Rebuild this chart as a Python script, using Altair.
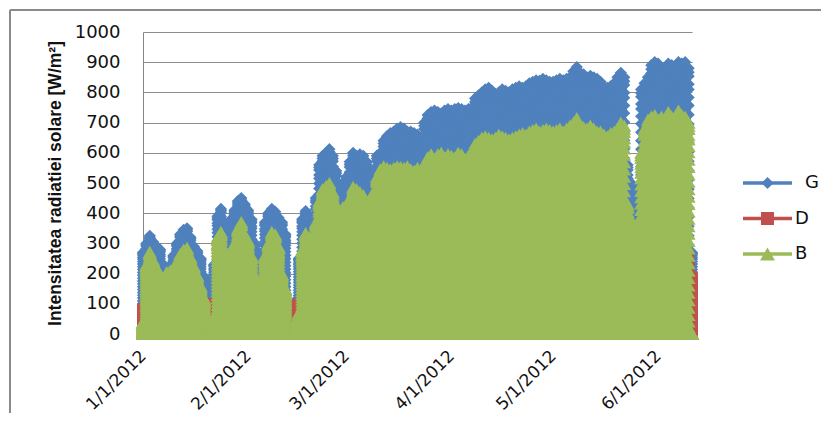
import altair as alt
import pandas as pd

alt.data_transformers.disable_max_rows()

START = "2012-01-01"
SERIES = ["G", "D", "B"]
COLORS = ["#4F81BD", "#C0504D", "#9BBB59"]
SHAPES = ["diamond", "square", "triangle-up"]
SIZES = [150, 121, 196]
LEGEND_SIZES = [150, 169, 225]

# daily peak values (W/m2), one per day from 1/1/2012
G_PEAK = [270, 300, 325, 305, 290, 280, 230, 220, 225, 260, 300, 330, 345, 350, 320, 290, 275, 250, 190, 170,
          150, 230, 390, 414, 370, 340, 380, 410, 440, 450, 430,
          410, 380, 300, 200, 260, 370, 400, 414, 405, 385, 370, 330, 100, 90, 110, 250, 380, 407, 390,
          367, 450, 560, 590, 600, 612, 590, 540, 480, 500,
          520, 570, 600, 590, 595, 590, 570, 540, 533, 590, 600, 640, 655, 665, 670, 680, 685, 680, 670, 670,
          665, 660, 650, 700, 725, 735, 740, 735, 730, 740, 745,
          740, 745, 748, 745, 740, 745, 750, 780, 790, 800, 810, 815, 805, 795, 800, 810, 805, 800, 810, 815,
          820, 815, 820, 830, 835, 840, 838, 845, 840, 835,
          835, 840, 845, 840, 845, 850, 870, 884, 865, 860, 850, 855, 850, 845, 835, 820, 815, 820, 830, 850,
          865, 850, 560, 500, 470, 480, 810, 830, 850, 890, 900,
          895, 880, 860, 895, 890, 870, 900, 895, 900, 880, 270]
D_PEAK = [85, 80, 75, 80, 85, 75, 70, 60, 65, 70, 70, 75, 70, 75, 80, 85, 90, 95, 100, 100,
          100, 100, 95, 90, 95, 100, 100, 95, 95, 100, 100,
          100, 100, 100, 100, 100, 100, 95, 95, 100, 100, 100, 100, 95, 90, 95, 100, 100, 100, 105,
          110, 110, 115, 120, 120, 120, 125, 125, 125, 130,
          130, 135, 135, 140, 140, 145, 150, 150, 145, 150, 155, 160, 160, 165, 160, 165, 170, 170, 165, 170,
          175, 175, 170, 180, 180, 185, 185, 180, 185, 190, 190,
          190, 195, 190, 195, 200, 195, 200, 200, 205, 200, 205, 210, 205, 210, 210, 215, 210, 215, 215, 220,
          215, 220, 220, 225, 220, 225, 225, 220, 225, 230,
          230, 225, 230, 235, 230, 235, 235, 240, 235, 240, 240, 235, 240, 245, 240, 245, 245, 240, 245, 250,
          245, 250, 260, 270, 280, 275, 250, 245, 250, 250, 255,
          250, 255, 250, 255, 250, 255, 250, 255, 250, 255, 190]
B_PEAK = [40, 230, 272, 245, 220, 190, 170, 205, 210, 215, 240, 265, 280, 285, 255, 225, 195, 160, 120, 30,
          20, 60, 320, 338, 280, 250, 270, 300, 350, 371, 330,
          310, 260, 195, 106, 180, 260, 300, 338, 330, 290, 200, 150, 30, 20, 30, 70, 280, 334, 320,
          300, 370, 440, 480, 490, 500, 470, 430, 404, 420,
          410, 450, 487, 480, 470, 460, 440, 437, 470, 520, 545, 555, 550, 545, 550, 555, 553, 550, 555, 545,
          540, 550, 545, 560, 585, 595, 580, 595, 600, 585, 595,
          590, 585, 600, 595, 580, 590, 600, 630, 640, 650, 655, 650, 645, 650, 660, 655, 650, 645, 650, 655,
          660, 665, 660, 670, 675, 680, 670, 675, 680, 675,
          670, 675, 680, 670, 680, 690, 700, 715, 690, 685, 680, 690, 680, 670, 670, 660, 655, 665, 670, 680,
          700, 690, 430, 380, 360, 370, 600, 680, 710, 720, 725,
          710, 720, 700, 735, 720, 700, 740, 725, 720, 700, 0]

# shape of one day's readings, as a fraction of the day's peak, in time order
PROFILE = [0.0, 0.03, 0.09, 0.16, 0.23, 0.30, 0.37, 0.44, 0.51, 0.58, 0.65, 0.72, 0.79, 0.86, 0.92, 0.97, 1.0,
           0.985, 0.94, 0.89, 0.825, 0.755, 0.685, 0.615, 0.545, 0.475, 0.405, 0.335, 0.265, 0.195, 0.125,
           0.06, 0.0]

Y_TICKS = [0, 100, 200, 300, 400, 500, 600, 700, 800, 900, 1000]
X_TICK_MONTHS = [1, 2, 3, 4, 5, 6]

dates = pd.date_range(START, periods=len(G_PEAK), freq="D")
rows = []
k = 0
for name, peaks in zip(SERIES, [G_PEAK, D_PEAK, B_PEAK]):
    for d, p in zip(dates, peaks):
        for f in PROFILE:
            rows.append({"series": name, "date": d.strftime("%Y-%m-%d"),
                         "value": round(p * f, 1), "ord": k})
            k += 1
df = pd.DataFrame(rows)

x = alt.X("date:T",
          scale=alt.Scale(type="utc",
                          domain=[alt.DateTime(year=2012, month=1, date=1, utc=True),
                                  alt.DateTime(year=2012, month=6, date=11, utc=True)]),
          axis=alt.Axis(values=[alt.DateTime(year=2012, month=m, date=1, utc=True) for m in X_TICK_MONTHS],
                        labelExpr="utcFormat(datum.value, '%-m/%-d/%Y')",
                        title=None, grid=False, ticks=False, tickSize=0,
                        labelAngle=315, labelAlign="right", labelBaseline="middle",
                        labelPadding=19, labelFont="DejaVu Sans", labelFontSize=17,
                        labelColor="#111111", domainColor="#868686", labelOverlap=False))
y = alt.Y("value:Q", scale=alt.Scale(domain=[0, 1000], nice=False),
          axis=alt.Axis(values=Y_TICKS, format="d", title="Intensitatea radiatiei solare [W/m²]",
                        titleFont="Liberation Sans", titleFontSize=17.5, titleFontWeight="bold",
                        titleColor="#111111",
                        titleAngle=270, titleX=-88, titleY=151, titleAlign="center",
                        titleBaseline="middle",
                        labelFont="DejaVu Sans", labelFontSize=18, labelColor="#111111",
                        labelPadding=23, ticks=False, tickSize=0,
                        domainColor="#868686", gridColor="#8c8c8c", grid=True))

base = alt.Chart(df)
lines = base.mark_line(strokeWidth=2.5).encode(
    x=x, y=y,
    color=alt.Color("series:N", scale=alt.Scale(domain=SERIES, range=COLORS), legend=None),
    order=alt.Order("ord:Q"))

point_layers = []
for name, col, shp, sz in zip(SERIES, COLORS, SHAPES, SIZES):
    point_layers.append(
        base.transform_filter(alt.datum.series == name)
        .mark_point(filled=True, opacity=1, strokeWidth=0, color=col, shape=shp, size=sz)
        .encode(x=x, y=y, order=alt.Order("ord:Q")))

# legend (drawn as decoration, to the right of the plot)
LEG_X0, LEG_X1, LEG_Y0, LEG_DY = 600, 649, 151, 35.5
legend_layers = []
for i, (name, col, shp, sz) in enumerate(zip(SERIES, COLORS, SHAPES, LEGEND_SIZES)):
    ly = LEG_Y0 + i * LEG_DY
    ld = alt.Data(values=[{"series": name}])
    legend_layers.append(alt.Chart(ld).mark_rule(color=col, strokeWidth=3.5).encode(
        x=alt.value(LEG_X0), x2=alt.value(LEG_X1), y=alt.value(ly)))
    legend_layers.append(alt.Chart(ld).mark_point(filled=True, opacity=1, strokeWidth=0, color=col,
                                                  shape=shp, size=sz).encode(
        x=alt.value((LEG_X0 + LEG_X1) / 2), y=alt.value(ly)))
    legend_layers.append(alt.Chart(ld).mark_text(align="left", baseline="middle", font="DejaVu Sans",
                                                 fontSize=18, color="#111111").encode(
        x=alt.value(LEG_X1 + (13 if name == "G" else 3)), y=alt.value(ly), text="series:N"))

border = alt.Data(values=[{"b": 1}])
border_top = alt.Chart(border).mark_rule(color="#8a8a8a", strokeWidth=2).encode(
    x=alt.value(-133), x2=alt.value(680), y=alt.value(-22))
border_left = alt.Chart(border).mark_rule(color="#8a8a8a", strokeWidth=2).encode(
    x=alt.value(-133), y=alt.value(-22), y2=alt.value(381))

chart = alt.layer(border_top, border_left, lines, *point_layers, *legend_layers).properties(
    width=549, height=302,
    autosize=alt.AutoSizeParams(type="none"),
    padding={"left": 135, "top": 24, "right": 129, "bottom": 79},
).configure_view(stroke=None)

chart.save("out.html", embed_options={"renderer": "svg", "actions": False})
